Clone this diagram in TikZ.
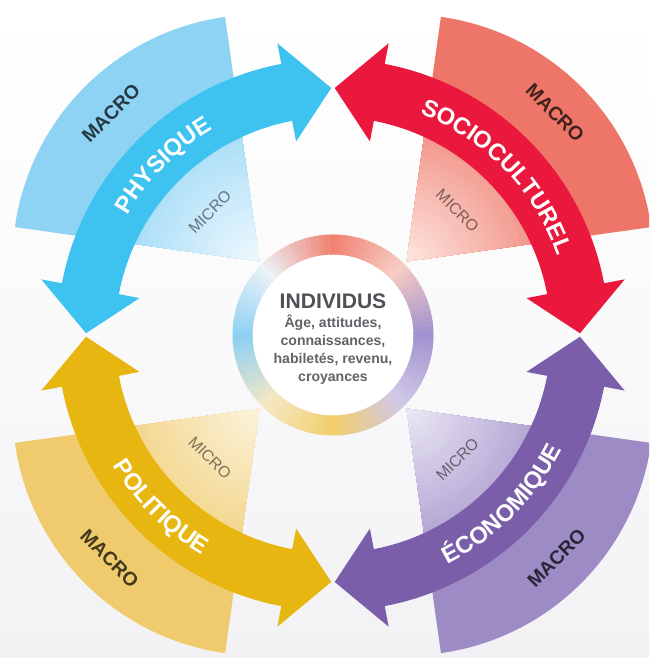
\documentclass[tikz,border=0pt]{standalone}
\usepackage{fontspec}
\setmainfont{Liberation Sans}
\usetikzlibrary{decorations.text}
\usepackage{xcolor}

\definecolor{physArrow}{RGB}{62,195,241}
\definecolor{physMacro}{RGB}{142,211,244}
\definecolor{physPale}{RGB}{240,249,254}
\definecolor{socioArrow}{RGB}{234,24,60}
\definecolor{socioMacro}{RGB}{238,118,104}
\definecolor{socioPale}{RGB}{253,232,226}
\definecolor{poliArrow}{RGB}{231,182,16}
\definecolor{poliMacro}{RGB}{239,203,110}
\definecolor{poliPale}{RGB}{252,244,222}
\definecolor{ecoArrow}{RGB}{122,94,170}
\definecolor{ecoMacro}{RGB}{157,139,198}
\definecolor{ecoPale}{RGB}{236,233,245}
\definecolor{bgGray}{RGB}{242,242,245}
\definecolor{ringTop}{RGB}{241,128,112}
\definecolor{ringTR}{RGB}{247,204,196}
\definecolor{ringRight}{RGB}{160,146,206}
\definecolor{ringBR}{RGB}{208,200,232}
\definecolor{ringBottom}{RGB}{242,206,108}
\definecolor{ringBL}{RGB}{244,232,196}
\definecolor{ringLeft}{RGB}{140,208,243}
\definecolor{ringTL}{RGB}{236,242,247}
\definecolor{titleGray}{RGB}{80,80,86}
\definecolor{subGray}{RGB}{98,98,104}

\tikzset{%
	macrolbl/.style={
		font=\fontsize{11}{13}\selectfont\bfseries,
		text=black, text opacity=0.72
	},
	microlbl/.style={
		font=\fontsize{9}{11}\selectfont,
		text=black, text opacity=0.5
	},
	arclbl/.style={
		decorate,
		decoration={text along path, text align=center, text color=white,
			text={|\fontsize{13.5}{15}\selectfont\bfseries|#1}}
	},
}

% radius of the arrow band, half width of shaft and head, head angle
\newcommand{\rmid}{247}
\newcommand{\sw}{29}
\newcommand{\hw}{50}
\newcommand{\hang}{10.4}

% curved double arrow between two tip angles (#1 > #2)
\newcommand{\ringarrow}[3]{%
	\fill[#3] (#1:\rmid) -- (#1-\hang:\rmid+\hw) -- (#1-\hang:\rmid+\sw)
		arc[start angle=#1-\hang, end angle=#2+\hang, radius=\rmid+\sw]
		-- (#2+\hang:\rmid+\hw) -- (#2:\rmid) -- (#2+\hang:\rmid-\hw)
		-- (#2+\hang:\rmid-\sw)
		arc[start angle=#2+\hang, end angle=#1-\hang, radius=\rmid-\sw]
		-- (#1-\hang:\rmid-\hw) -- cycle;}

\begin{document}
\begin{tikzpicture}[x=0.02cm, y=0.02cm]
	\useasboundingbox (-333,-323) rectangle (316,335);
	\clip (-333,-323) rectangle (316,335);
	\shade[top color=white, bottom color=bgGray, middle color=white!60!bgGray]
		(-333,-323) rectangle (316,335);

	% Wedges: MACRO outside, MICRO inside fading to the apex
	\foreach \d/\cmac/\cpal in {135/physMacro/physPale, 45/socioMacro/socioPale,
		225/poliMacro/poliPale, -45/ecoMacro/ecoPale}{
		\fill[\cmac] (\d:104) -- ++(\d+37:247)
			arc[start angle=\d+37, end angle=\d-37, radius=247] -- cycle;
		\begin{scope}
			\clip (0,0) circle (250);
			\foreach \s in {240,234,...,6}{
				\pgfmathtruncatemacro\p{min(85,\s*0.55)}
				\fill[\cmac!\p!\cpal] (\d:104) -- ++(\d+37:\s)
					arc[start angle=\d+37, end angle=\d-37, radius=\s] -- cycle;
			}
		\end{scope}
	}

	% Ring round the individual
	\fill[white] (0,0) circle (81);
	\foreach \ca/\cb [count=\k from 0] in {ringTop/ringTR, ringTR/ringRight,
		ringRight/ringBR, ringBR/ringBottom, ringBottom/ringBL, ringBL/ringLeft,
		ringLeft/ringTL, ringTL/ringTop}{
		\foreach \i in {0,...,14}{
			\pgfmathtruncatemacro\p{100-\i*100/15}
			\pgfmathsetmacro\ang{90-\k*45-\i*3}
			\draw[line width=0.4cm, draw=\ca!\p!\cb] (\ang+2:90.5)
				arc[start angle=\ang+2, end angle=\ang-2, radius=90.5];
		}
	}

	% Arrows
	\ringarrow{179.6}{90.4}{physArrow}
	\ringarrow{89.6}{0.4}{socioArrow}
	\ringarrow{-0.4}{-89.6}{ecoArrow}
	\ringarrow{-90.4}{-179.6}{poliArrow}

	% Arrow labels
	\path[arclbl=PHYSIQUE] (168:238) arc[start angle=168, end angle=102, radius=238];
	\path[arclbl=SOCIOCULTUREL] (82:238) arc[start angle=82, end angle=6, radius=238];
	\path[arclbl=POLITIQUE] (192:256) arc[start angle=192, end angle=258, radius=256];
	\path[arclbl=ÉCONOMIQUE] (-84:256) arc[start angle=-84, end angle=-6, radius=256];

	% MACRO / MICRO
	\node[macrolbl, rotate=45] (macroPhys) at (135:314) {MACRO};
	\node[microlbl, rotate=45] (microPhys) at (135:174) {MICRO};
	\node[macrolbl, rotate=-45] (macroSocio) at (45:314) {MACRO};
	\node[microlbl, rotate=-45] (microSocio) at (45:176) {MICRO};
	\node[macrolbl, rotate=-45] (macroPoli) at (225:316) {MACRO};
	\node[microlbl, rotate=-45] (microPoli) at (225:174) {MICRO};
	\node[macrolbl, rotate=45] (macroEco) at (-45:316) {MACRO};
	\node[microlbl, rotate=45] (microEco) at (-45:176) {MICRO};

	% Individual
	\node[font=\fontsize{12}{14}\selectfont\bfseries, text=titleGray] (indiv) at (0,34) {INDIVIDUS};
	\node[font=\fontsize{8}{10.2}\selectfont\bfseries, text=subGray, align=center] (traits) at (0,-15)
		{Âge, attitudes,\\connaissances,\\habiletés, revenu,\\croyances};
\end{tikzpicture}
\end{document}
